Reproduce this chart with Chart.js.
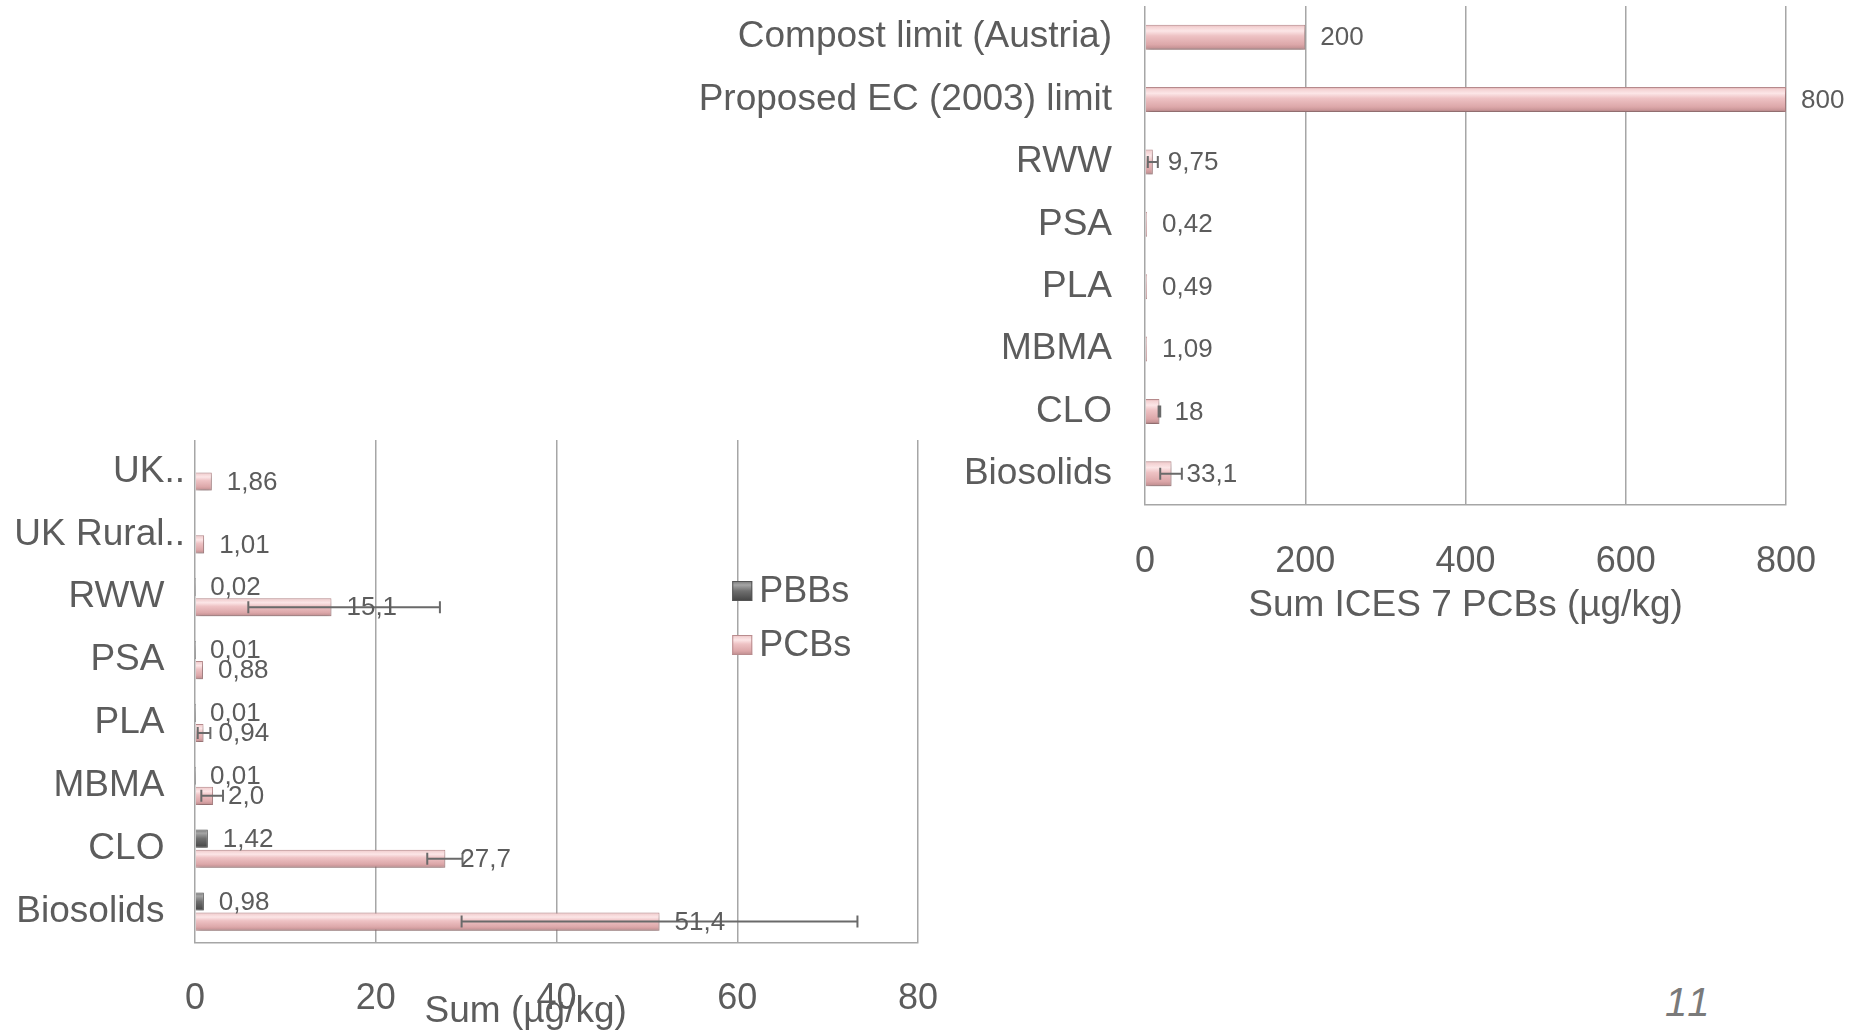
<!DOCTYPE html>
<html>
<head>
<meta charset="utf-8">
<title>PCBs / PBBs</title>
<script src="https://cdn.jsdelivr.net/npm/chart.js@4.4.0/dist/chart.umd.min.js"></script>
<style>
  html, body { margin: 0; padding: 0; background: #fff; }
  body { width: 1851px; height: 1034px; position: relative; overflow: hidden; font-family: 'Liberation Sans', Arial, sans-serif; }
  .box { position: absolute; }
  #iceBox { left: 640px; top: 0; width: 1211px; height: 628px; }
  #sumBox { left: 0; top: 420px; width: 960px; height: 614px; }
  #pageNo { position: absolute; left: 1665px; top: 982px; font-size: 40px; line-height: 1; letter-spacing: 3px; font-style: italic; color: #7a7a7a; }
</style>
</head>
<body>
<div class="box" id="iceBox"><canvas id="iceChart"></canvas></div>
<div class="box" id="sumBox"><canvas id="sumChart"></canvas></div>
<div id="pageNo">11</div>

<script>
// Right chart: sum ICES 7 PCBs
const iceLabels = ['Compost limit (Austria)', 'Proposed EC (2003) limit', 'RWW', 'PSA', 'PLA', 'MBMA', 'CLO', 'Biosolids'];
const iceValues = [200, 800, 9.75, 0.42, 0.49, 1.09, 18, 33.1];
const iceDigits = [0, 0, 2, 2, 2, 2, 0, 1];
const iceErrLow = [null, null, 3.5, null, null, null, 17, 19];
const iceErrHigh = [null, null, 16, null, null, null, 19, 46];
const iceTicks = [0, 200, 400, 600, 800];

// Left chart: sum PBBs / PCBs
const sumLabels = ['UK..', 'UK Rural..', 'RWW', 'PSA', 'PLA', 'MBMA', 'CLO', 'Biosolids'];
const pbbValues = [null, null, 0.02, 0.01, 0.01, 0.01, 1.42, 0.98];
const pbbDigits = [2, 2, 2, 2, 2, 2, 2, 2];
const pcbValues = [1.86, 1.01, 15.1, 0.88, 0.94, 2.0, 27.7, 51.4];
const pcbDigits = [2, 2, 1, 2, 2, 1, 1, 1];
const pcbErrLow = [null, null, 5.9, null, 0.3, 0.7, 25.7, 29.5];
const pcbErrHigh = [null, null, 27.1, null, 1.7, 3.1, 29.6, 73.3];
const sumTicks = [0, 20, 40, 60, 80];

const TEXT = '#5c5c5c';
const GRID = '#a6a6a6';
const pinkShade = [[0, '#d9a3a5'], [0.08, '#f3d1d2'], [0.25, '#fce6e7'], [0.45, '#eec2c4'], [0.8, '#dca7a9'], [0.93, '#c79496'], [1, '#8c6a6b']];
const greyShade = [[0, '#777777'], [0.2, '#a5a5a5'], [0.5, '#6f6f6f'], [1, '#444444']];

Chart.defaults.font.family = "'Liberation Sans', Arial, sans-serif";
Chart.defaults.color = TEXT;

function fmt(v, d) {
    return v.toFixed(d).replace('.', ',');
}

// drop the automatic label padding so the plot area sits where it should
function noScalePadding(s) {
    s.paddingLeft = 0;
    s.paddingRight = 0;
    s.paddingTop = 0;
    s.paddingBottom = 0;
}

// bevelled look + soft shadow on the bars
const barLook = {
    id: 'barLook',
    beforeDatasetsDraw(chart) {
        const ctx = chart.ctx;
        chart.data.datasets.forEach((ds, i) => {
            chart.getDatasetMeta(i).data.forEach((bar, j) => {
                if (ds.data[j] == null) return;
                const top = bar.y - bar.height / 2;
                const g = ctx.createLinearGradient(0, top, 0, top + bar.height);
                ds.shade.forEach(s => g.addColorStop(s[0], s[1]));
                bar.options = Object.assign({}, bar.options, { backgroundColor: g });
            });
        });
        ctx.save();
        ctx.shadowColor = 'rgba(0,0,0,0.28)';
        ctx.shadowBlur = 5;
        ctx.shadowOffsetX = 1;
        ctx.shadowOffsetY = 3;
    },
    afterDatasetsDraw(chart) {
        chart.ctx.restore();
    }
};

// error bars and value labels
const extras = {
    id: 'extras',
    afterDatasetsDraw(chart) {
        const ctx = chart.ctx;
        const xs = chart.scales.x;
        ctx.save();
        chart.data.datasets.forEach((ds, i) => {
            chart.getDatasetMeta(i).data.forEach((bar, j) => {
                const v = ds.data[j];
                if (v == null) return;
                const lo = ds.errLow ? ds.errLow[j] : null;
                const hi = ds.errHigh ? ds.errHigh[j] : null;
                if (lo != null && hi != null) {
                    const x1 = xs.getPixelForValue(lo), x2 = xs.getPixelForValue(hi);
                    ctx.strokeStyle = '#6a6a6a';
                    ctx.lineWidth = 2;
                    ctx.beginPath();
                    ctx.moveTo(x1, bar.y); ctx.lineTo(x2, bar.y);
                    ctx.moveTo(x1, bar.y - 6); ctx.lineTo(x1, bar.y + 6);
                    ctx.moveTo(x2, bar.y - 6); ctx.lineTo(x2, bar.y + 6);
                    ctx.stroke();
                }
                ctx.fillStyle = TEXT;
                ctx.font = "26px 'Liberation Sans', Arial, sans-serif";
                ctx.textAlign = 'left';
                ctx.textBaseline = 'middle';
                ctx.fillText(fmt(v, ds.digits[j]), bar.x + 15, bar.y + 1);
            });
        });
        ctx.restore();
    }
};

// legend drawn inside the plot, over the 60 gridline
const insideLegend = {
    id: 'insideLegend',
    afterDraw(chart) {
        const ctx = chart.ctx;
        const x = chart.scales.x.getPixelForValue(60) - 5;
        const top = chart.chartArea.top + 151;
        ctx.save();
        chart.data.datasets.forEach((ds, i) => {
            const cy = top + i * 54;
            const g = ctx.createLinearGradient(0, cy - 10, 0, cy + 10);
            ds.shade.forEach(s => g.addColorStop(s[0], s[1]));
            ctx.fillStyle = g;
            ctx.fillRect(x, cy - 10, 20, 20);
            ctx.strokeStyle = ds.borderColor;
            ctx.lineWidth = 1;
            ctx.strokeRect(x + 0.5, cy - 9.5, 19, 19);
            ctx.fillStyle = TEXT;
            ctx.font = "36px 'Liberation Sans', Arial, sans-serif";
            ctx.textAlign = 'left';
            ctx.textBaseline = 'middle';
            ctx.fillText(ds.label, x + 27, cy + 1);
        });
        ctx.restore();
    }
};

function xAxis(max, step, pad, height, title) {
    return {
        min: 0,
        max: max,
        ticks: { stepSize: step, padding: pad, color: TEXT, font: { size: 36 } },
        grid: { color: GRID, lineWidth: 1.5, drawTicks: false },
        border: { color: GRID, width: 1.5 },
        title: { display: true, text: title, color: TEXT, font: { size: 37 }, padding: 0 },
        afterFit(s) {
            s.height = height;
            noScalePadding(s);
        }
    };
}

new Chart(document.getElementById('iceChart'), {
    type: 'bar',
    data: {
        labels: iceLabels,
        datasets: [{
            label: 'PCBs',
            data: iceValues,
            digits: iceDigits,
            errLow: iceErrLow,
            errHigh: iceErrHigh,
            shade: pinkShade,
            backgroundColor: '#e8b9ba',
            borderColor: '#b98c8e',
            borderWidth: 1,
            minBarLength: 2,
            categoryPercentage: 0.8,
            barPercentage: 0.5
        }]
    },
    options: {
        indexAxis: 'y',
        responsive: true,
        maintainAspectRatio: false,
        animation: false,
        layout: { padding: { top: 6, right: 65, left: 0, bottom: 0 } },
        plugins: { legend: { display: false }, tooltip: { enabled: false } },
        scales: {
            x: xAxis(iceTicks[iceTicks.length - 1], iceTicks[1] - iceTicks[0], 35, 123, 'Sum ICES 7 PCBs (µg/kg)'),
            y: {
                grid: { display: false, drawTicks: false },
                border: { display: false },
                ticks: { padding: 33, color: TEXT, font: { size: 37 } },
                afterFit(s) {
                    s.width = 505;
                    noScalePadding(s);
                }
            }
        }
    },
    plugins: [barLook, extras]
});

new Chart(document.getElementById('sumChart'), {
    type: 'bar',
    data: {
        labels: sumLabels,
        datasets: [{
            label: 'PBBs',
            data: pbbValues,
            digits: pbbDigits,
            shade: greyShade,
            backgroundColor: '#777777',
            borderColor: '#555555',
            borderWidth: 1,
            categoryPercentage: 0.64,
            barPercentage: 0.9
        }, {
            label: 'PCBs',
            data: pcbValues,
            digits: pcbDigits,
            errLow: pcbErrLow,
            errHigh: pcbErrHigh,
            shade: pinkShade,
            backgroundColor: '#e8b9ba',
            borderColor: '#b98c8e',
            borderWidth: 1,
            categoryPercentage: 0.64,
            barPercentage: 0.9
        }]
    },
    options: {
        indexAxis: 'y',
        responsive: true,
        maintainAspectRatio: false,
        animation: false,
        layout: { padding: { top: 20, right: 42, left: 0, bottom: 0 } },
        plugins: { legend: { display: false }, tooltip: { enabled: false } },
        scales: {
            x: xAxis(sumTicks[sumTicks.length - 1], sumTicks[1] - sumTicks[0], 34, 91, 'Sum (µg/kg)      '),
            y: {
                grid: { display: false, drawTicks: false },
                border: { display: false },
                ticks: {
                    padding: 10,
                    color: TEXT,
                    font: { size: 37 },
                    // truncated labels sit closer to the axis
                    callback(value, index) {
                        const t = sumLabels[index];
                        return t.endsWith('..') ? t : t + '  ';
                    }
                },
                afterFit(s) {
                    s.width = 195;
                    noScalePadding(s);
                }
            }
        }
    },
    plugins: [barLook, extras, insideLegend]
});
</script>
</body>
</html>
